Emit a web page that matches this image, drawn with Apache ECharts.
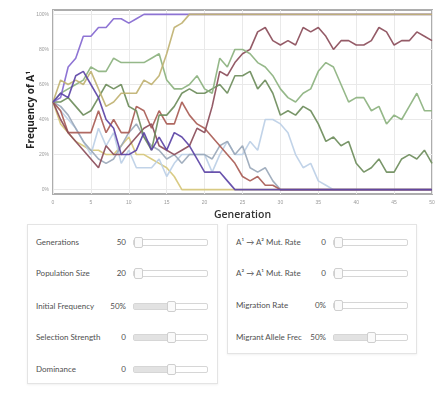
<!DOCTYPE html>
<html>
<head>
<meta charset="utf-8">
<script src="https://cdn.jsdelivr.net/npm/echarts@6/dist/echarts.min.js"></script>
<style>
  body { margin: 0; background: #fff; font-family: Lato, "Open Sans", sans-serif; }
  #chart { position: absolute; left: 0; top: 0; width: 443px; height: 222px; }
  .panel { position: absolute; border: 1px solid #e4e4e4; box-shadow: 0 1px 2px rgba(0,0,0,0.06); background: #fff; }
  .row { position: absolute; left: 0; right: 0; height: 12px; font-size: 8px; color: #505050; }
  .row .lbl { position: absolute; top: 0; line-height: 12px; white-space: nowrap; }
  .row .val { position: absolute; top: 0; line-height: 12px; text-align: right; width: 30px; }
  .track { position: absolute; top: 3px; height: 5px; border: 1px solid #d6d6d6; border-radius: 2px; background: #fff; }
  .fill { position: absolute; left: 0; top: 0; bottom: 0; background: #e2e2e2; }
  .thumb { position: absolute; top: -3px; width: 7px; height: 9px; border: 1px solid #cfcfcf; border-radius: 2px; background: #fafafa; }
</style>
</head>
<body>
<div id="chart"></div>
<div class="panel" id="p1" style="left:27px; top:224px; width:189px; height:158px;"></div>
<div class="panel" id="p2" style="left:227px; top:224px; width:188px; height:128px;"></div>
<script>
// generations on the x axis
var generations = [];
for (var g = 0; g <= 50; g++) generations.push(g);

var yTicks = [0, 20, 40, 60, 80, 100];

// allele frequency (%) of each replicate population, gens 0..50
var purpleBright = [50, 52.5, 70, 75, 87.5, 87.5, 92.5, 92.5, 97.5, 97.5,
  95, 97.5, 100, 100, 100, 100, 100, 100, 100, 100,
  100, 100, 100, 100, 100, 100, 100, 100, 100, 100,
  100, 100, 100, 100, 100, 100, 100, 100, 100, 100,
  100, 100, 100, 100, 100, 100, 100, 100, 100, 100,
  100]
var olive = [50, 62.5, 60, 62.5, 60, 67.5, 57.5, 47.5, 50, 55,
  55, 55, 62.5, 60, 65, 77.5, 92.5, 95, 100, 100,
  100, 100, 100, 100, 100, 100, 100, 100, 100, 100,
  100, 100, 100, 100, 100, 100, 100, 100, 100, 100,
  100, 100, 100, 100, 100, 100, 100, 100, 100, 100,
  100]
var yellow = [50, 37.5, 32.5, 27.5, 25, 22.5, 22.5, 20, 20, 25,
  30, 20, 20, 17.5, 15, 12.5, 7.5, 0, 0, 0,
  0, 0, 0, 0, 0, 0, 0, 0, 0, 0,
  0, 0, 0, 0, 0, 0, 0, 0, 0, 0,
  0, 0, 0, 0, 0, 0, 0, 0, 0, 0,
  0]
var lightGreen = [50, 55, 57.5, 60, 62.5, 70, 67.5, 67.5, 75, 72.5,
  72.5, 72.5, 72.5, 75, 77.5, 62.5, 57.5, 57.5, 60, 65,
  57.5, 55, 75, 70, 80, 80, 77.5, 72.5, 70, 65,
  57.5, 52.5, 50, 55, 57.5, 67.5, 72.5, 70, 60, 50,
  52.5, 52.5, 45, 47.5, 37.5, 42.5, 40, 47.5, 55, 45,
  45]
var darkGreen = [50, 50, 52.5, 47.5, 42.5, 45, 52.5, 60, 57.5, 60,
  47.5, 45, 30, 22.5, 42.5, 42.5, 47.5, 55, 57.5, 55,
  55, 57.5, 60, 55, 65, 65, 67.5, 57.5, 62.5, 55,
  42.5, 45, 42.5, 47.5, 45, 37.5, 27.5, 30, 25, 27.5,
  15, 10, 12.5, 17.5, 10, 10, 17.5, 20, 17.5, 22.5,
  15]
var brick = [50, 45, 32.5, 32.5, 32.5, 32.5, 45, 32.5, 40, 32.5,
  32.5, 47.5, 45, 35, 45, 37.5, 37.5, 50, 42.5, 37.5,
  35, 30, 25, 20, 15, 7.5, 5, 7.5, 2.5, 2.5,
  0, 0, 0, 0, 0, 0, 0, 0, 0, 0,
  0, 0, 0, 0, 0, 0, 0, 0, 0, 0,
  0]
var maroon = [50, 40, 32.5, 27.5, 22.5, 17.5, 12.5, 25, 20, 20,
  25, 30, 35, 37.5, 25, 22.5, 20, 22.5, 25, 35,
  32.5, 47.5, 67.5, 65, 72.5, 77.5, 80, 90, 92.5, 85,
  82.5, 85, 82.5, 92.5, 90, 92.5, 87.5, 80, 85, 85,
  82.5, 82.5, 85, 92.5, 90, 82.5, 85, 85, 90, 87.5,
  85]
var lightBlue = [50, 45, 40, 35, 27.5, 20, 35, 25, 32.5, 15,
  22.5, 12.5, 12.5, 12.5, 17.5, 7.5, 15, 20, 20, 20,
  20, 10, 20, 27.5, 20, 20, 27.5, 22.5, 40, 40,
  37.5, 32.5, 20, 12.5, 15, 5, 2.5, 0, 0, 0,
  0, 0, 0, 0, 0, 0, 0, 0, 0, 0,
  0]
var grayBlue = [50, 47.5, 42.5, 35, 27.5, 22.5, 17.5, 15, 17.5, 25,
  32.5, 37.5, 30, 25, 22.5, 17.5, 20, 15, 20, 20,
  20, 17.5, 25, 27.5, 20, 25, 12.5, 10, 12.5, 5,
  0, 0, 0, 0, 0, 0, 0, 0, 0, 0,
  0, 0, 0, 0, 0, 0, 0, 0, 0, 0,
  0]
var darkPurple = [50, 55, 52.5, 65, 67.5, 60, 52.5, 40, 35, 20,
  20, 22.5, 32.5, 22.5, 30, 22.5, 32.5, 30, 25, 17.5,
  10, 10, 10, 5, 0, 0, 0, 0, 0, 0,
  0, 0, 0, 0, 0, 0, 0, 0, 0, 0,
  0, 0, 0, 0, 0, 0, 0, 0, 0, 0,
  0]

// drawing order: later ones sit on top
var runs = [
  {data: yellow, color: '#d6c77a'},
  {data: lightBlue, color: '#bccfe6'},
  {data: grayBlue, color: '#9aa8ba'},
  {data: brick, color: '#a95c55'},
  {data: maroon, color: '#8b4d5a'},
  {data: darkGreen, color: '#6e8d5c'},
  {data: lightGreen, color: '#8cb27f'},
  {data: purpleBright, color: '#8468d0'},
  {data: olive, color: '#c0b272'},
  {data: darkPurple, color: '#5c44a6'}
]

var series = runs.map(function (r) {
  return {
    type: 'line',
    showSymbol: false,
    clip: false,
    lineStyle: {width: 1.6, color: r.color, opacity: 0.92},
    data: r.data.map(function (v, i) { return [generations[i], v] })
  }
})

var chart = echarts.init(document.getElementById('chart'))
chart.setOption({
  animation: false,
  grid: {
    left: 53, right: 11, top: 10, bottom: 28,
    outerBoundsMode: 'none',
    show: true, borderColor: '#adadad', borderWidth: 2
  },
  xAxis: {
    type: 'value',
    min: 0, max: 50, interval: 5,
    name: 'Generation',
    nameLocation: 'middle',
    nameGap: 14,
    nameTextStyle: {fontSize: 10.5, fontWeight: 600, color: '#333', fontFamily: 'Open Sans'},
    axisLine: {show: false},
    axisTick: {show: false},
    axisLabel: {fontSize: 5, color: '#9a9a9a', margin: 6},
    splitLine: {lineStyle: {color: '#e9e9e9', width: 1}}
  },
  yAxis: {
    type: 'value',
    min: -2.5, max: 102.5,
    name: 'Frequency of A¹',
    nameLocation: 'middle',
    nameGap: 17,
    nameMoveOverlap: false,
    nameTextStyle: {fontSize: 10, fontWeight: 'bold', color: '#222', fontFamily: 'Open Sans',
      padding: [0, 16, 0, 0]},
    axisLine: {show: false},
    axisTick: {show: false, customValues: yTicks},
    axisLabel: {fontSize: 5, color: '#9a9a9a', margin: 4, customValues: yTicks,
      formatter: function (v) { return v + '%' }},
    splitLine: {lineStyle: {color: '#e9e9e9', width: 1}}
  },
  series: series
})

// control panels
var leftRows = [
  {label: 'Generations', value: '50', pos: 0, fill: false},
  {label: 'Population Size', value: '20', pos: 0, fill: false},
  {label: 'Initial Frequency', value: '50%', pos: 0.5, fill: true},
  {label: 'Selection Strength', value: '0', pos: 0.5, fill: true},
  {label: 'Dominance', value: '0', pos: 0.5, fill: true}
]
var rightRows = [
  {label: 'A¹ → A² Mut. Rate', value: '0', pos: 0, fill: false},
  {label: 'A² → A¹ Mut. Rate', value: '0', pos: 0, fill: false},
  {label: 'Migration Rate', value: '0%', pos: 0, fill: false},
  {label: 'Migrant Allele Frec', value: '50%', pos: 0.5, fill: true}
]

function buildPanel (el, rows, tops) {
  rows.forEach(function (r, i) {
    var row = document.createElement('div')
    row.className = 'row'
    row.style.top = tops[i] + 'px'
    var w = 73
    var x = (w - 8) * r.pos
    row.innerHTML =
      '<span class="lbl" style="left:8px">' + r.label + '</span>' +
      '<span class="val" style="left:68px">' + r.value + '</span>' +
      '<div class="track" style="left:105px; width:' + w + 'px">' +
        (r.fill ? '<div class="fill" style="width:' + x + 'px"></div>' : '') +
        '<div class="thumb" style="left:' + x + 'px"></div>' +
      '</div>'
    el.appendChild(row)
  })
}
buildPanel(document.getElementById('p1'), leftRows, [11, 42, 75, 106, 138])
buildPanel(document.getElementById('p2'), rightRows, [11, 42, 74, 106])
</script>
</body>
</html>
